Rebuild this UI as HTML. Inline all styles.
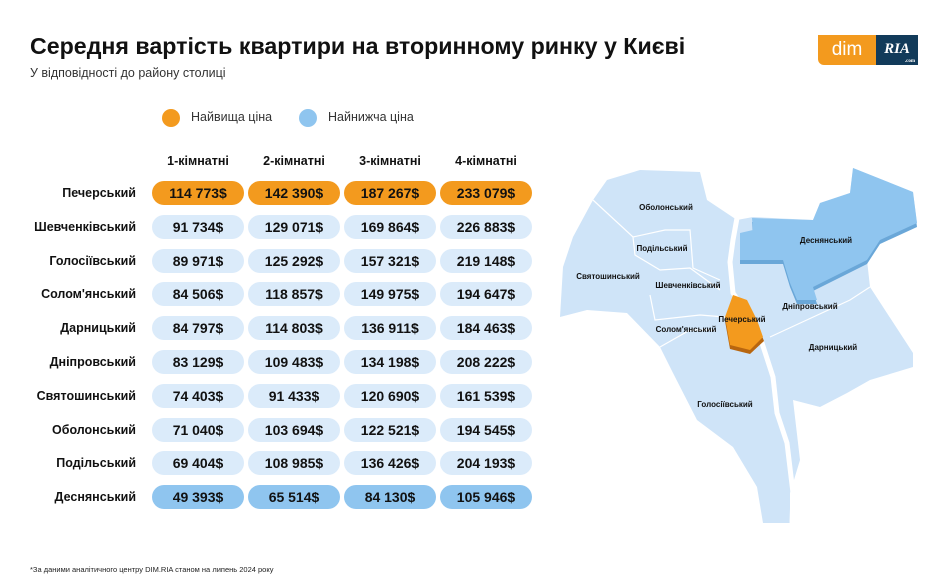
<!DOCTYPE html>
<html><head><meta charset="utf-8"><style>
body{margin:0;width:940px;height:588px;background:#fff;font-family:"Liberation Sans","Noto Sans CJK SC",sans-serif;position:relative;overflow:hidden;color:#111}
.a{position:absolute}
.t{left:30px;top:33px;font-size:23.2px;font-weight:bold;letter-spacing:0px}
.s{left:30px;top:66px;font-size:12.5px;color:#333}
.pill{position:absolute;height:24px;line-height:24px;border-radius:12px;text-align:center;font-weight:bold;font-size:14px;background:#dbebfa;width:92px}
.o{background:#f39a1e}.b{background:#8fc5ef}
.lab{position:absolute;right:804px;font-weight:bold;font-size:12.5px;text-align:right;white-space:nowrap;line-height:24px}
.h{position:absolute;font-weight:bold;font-size:12.5px;width:92px;text-align:center;top:154px}
</style></head><body>
<div class="a t">Середня вартість квартири на вторинному ринку у Києві</div>
<div class="a s">У відповідності до району столиці</div>
<div class="a" style="left:818px;top:35px;width:58px;height:30px;background:#f39a1e;border-radius:0 0 0 6px;color:#fff;font-size:19px;line-height:30px;text-align:center">dim</div>
<div class="a" style="left:876px;top:35px;width:42px;height:30px;background:#123b5a;color:#fff;font-size:15px;font-weight:bold;font-style:italic;line-height:28px;text-align:center;font-family:'Liberation Serif',serif">RIA<span style="position:absolute;right:3px;bottom:1px;font-size:5px;line-height:5px;font-style:normal">.com</span></div>
<div class="a" style="left:162px;top:109px;width:18px;height:18px;border-radius:50%;background:#f39a1e"></div>
<div class="a" style="left:191px;top:110px;font-size:12.5px;color:#333">Найвища ціна</div>
<div class="a" style="left:299px;top:109px;width:18px;height:18px;border-radius:50%;background:#8fc5ef"></div>
<div class="a" style="left:328px;top:110px;font-size:12.5px;color:#333">Найнижча ціна</div>
<div class="h" style="left:152px">1-кімнатні</div>
<div class="h" style="left:248px">2-кімнатні</div>
<div class="h" style="left:344px">3-кімнатні</div>
<div class="h" style="left:440px">4-кімнатні</div>
<div id="rows"></div>
<script>
var d=[["Печерський","114 773$","142 390$","187 267$","233 079$","o"],
["Шевченківський","91 734$","129 071$","169 864$","226 883$",""],
["Голосіївський","89 971$","125 292$","157 321$","219 148$",""],
["Солом'янський","84 506$","118 857$","149 975$","194 647$",""],
["Дарницький","84 797$","114 803$","136 911$","184 463$",""],
["Дніпровський","83 129$","109 483$","134 198$","208 222$",""],
["Святошинський","74 403$","91 433$","120 690$","161 539$",""],
["Оболонський","71 040$","103 694$","122 521$","194 545$",""],
["Подільський","69 404$","108 985$","136 426$","204 193$",""],
["Деснянський","49 393$","65 514$","84 130$","105 946$","b"]];
var h="",xs=[152,248,344,440];
d.forEach(function(r,i){var y=Math.round(181+i*33.8);
h+='<div class="lab" style="top:'+y+'px">'+r[0]+'</div>';
for(var j=0;j<4;j++)h+='<div class="pill '+r[5]+'" style="left:'+xs[j]+'px;top:'+y+'px">'+r[j+1]+'</div>';});
document.getElementById("rows").innerHTML=h;
</script>
<div class="a" style="left:30px;top:565px;font-size:7.5px;color:#222">*За даними аналітичного центру DIM.RIA станом на липень 2024 року</div>
<svg class="a" style="left:0;top:0" width="940" height="588">
<polygon fill="#cfe4f8" points="640,170 700,172 707,200 737,220 753,217 813,220 820,203 850,193 853,168 913,192 917,223 880,240 867,260 870,287 913,353 913,367 870,380 847,393 820,407 793,400 800,460 790,493 790,523 763,523 757,487 733,447 697,420 673,373 660,347 627,313 587,310 560,317 563,267 573,237 593,200 607,180"/>
<g fill="none" stroke="#fff" stroke-width="1.2">
<polyline points="593,200 633,237 665,230 690,230 693,268 720,280"/>
<polyline points="633,237 635,255 660,270 690,268 720,290"/>
<polyline points="650,295 655,320 700,315 725,317"/>
<polyline points="660,347 690,330 715,330"/>
<polyline points="770,337 850,300 870,287"/>
</g>
<polygon fill="#6aa7d8" points="752,222 813,224 820,207 850,197 853,172 913,196 917,227 880,244 867,264 813,291 817,304 797,304 790,287 783,264 760,264 740,264 740,237 753,234"/>
<polygon fill="#8fc5ef" points="752,218 813,220 820,203 850,193 853,168 913,192 917,223 880,240 867,260 813,287 817,300 797,300 790,283 783,260 760,260 740,260 740,233 753,230"/>
<polyline fill="none" stroke="#fff" stroke-width="5" stroke-linejoin="round" points="737,218 733,240 730,262 733,293 750,318 762,343 773,377 777,413 787,443 793,493 792,523"/>
<polygon fill="#b8660f" points="733,299 747,304 757,324 764,341 750,354 730,349 725,321"/>
<polygon fill="#f39a1e" points="733,295 747,300 757,320 763,337 750,350 730,345 725,317"/>
<g font-size="8" font-weight="bold" fill="#111" text-anchor="middle">
<text x="666" y="210">Оболонський</text>
<text x="662" y="251">Подільський</text>
<text x="608" y="279">Святошинський</text>
<text x="688" y="288">Шевченківський</text>
<text x="742" y="322">Печерський</text>
<text x="686" y="332">Солом'янський</text>
<text x="826" y="243">Деснянський</text>
<text x="810" y="309">Дніпровський</text>
<text x="833" y="350">Дарницький</text>
<text x="725" y="407">Голосіївський</text>
</g>
</svg>
</body></html>
